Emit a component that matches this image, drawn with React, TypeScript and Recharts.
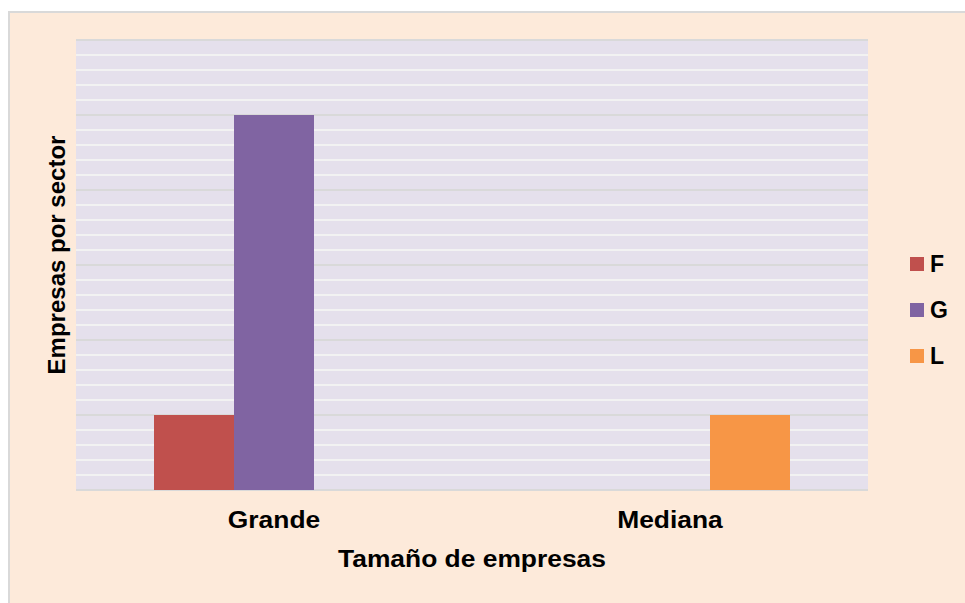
import { Bar, BarChart, CartesianGrid, Legend, XAxis, YAxis } from "recharts"

const categories = ["Grande", "Mediana"]
const seriesF = [1, 0]
const seriesG = [5, 0]
const seriesL = [0, 1]

// minor lines every 0.2, major every 1 (every 5th)
const yTicks = [
  0, 0.2, 0.4, 0.6, 0.8, 1, 1.2, 1.4, 1.6, 1.8, 2, 2.2, 2.4, 2.6, 2.8, 3,
  3.2, 3.4, 3.6, 3.8, 4, 4.2, 4.4, 4.6, 4.8, 5, 5.2, 5.4, 5.6, 5.8, 6,
]

const data = categories.map((name, i) => ({
  name,
  F: seriesF[i] || null,
  G: seriesG[i] || null,
  L: seriesL[i] || null,
}))

const FONT = "'Liberation Sans', Arial, sans-serif"

function gridLine(props: any) {
  const { x1, y1, x2, y2, index } = props
  const major = index % 5 === 0
  return (
    <line
      key={`h-${index}`}
      x1={x1}
      y1={y1}
      x2={x2}
      y2={y2}
      stroke={major ? "#D9D9D9" : "#F2F2F2"}
      strokeWidth={2}
    />
  )
}

function NoTick() {
  return <g />
}

// the source image is a bit stretched horizontally
function WideText({ x, y, children }: any) {
  return (
    <text
      transform={`translate(${x}, ${y}) scale(1.1, 1)`}
      textAnchor="middle"
      fontFamily={FONT}
      fontWeight="bold"
      fontSize={24}
      fill="#000"
    >
      {children}
    </text>
  )
}

function XTick(props: any) {
  const { x, payload } = props
  return <WideText x={x} y={528}>{payload.value}</WideText>
}

function XLabel(props: any) {
  const { viewBox } = props
  return <WideText x={viewBox.x + viewBox.width / 2} y={567}>Tamaño de empresas</WideText>
}

function YLabel(props: any) {
  const { viewBox } = props
  const x = viewBox.x + 65
  const y = viewBox.y + viewBox.height / 2 - 10
  return (
    <text
      x={x}
      y={y}
      transform={`rotate(-90, ${x}, ${y})`}
      textAnchor="middle"
      fontFamily={FONT}
      fontWeight="bold"
      fontSize={24}
      fill="#000"
    >
      Empresas por sector
    </text>
  )
}

function LegendBox(props: any) {
  const { payload } = props
  return (
    <div style={{ fontFamily: FONT }}>
      {payload.map((item: any) => (
        <div key={item.value} style={{ height: 46, display: "flex", alignItems: "center" }}>
          <span style={{ width: 14, height: 14, background: item.color, display: "inline-block", marginRight: 6 }} />
          <span style={{ fontSize: 23, fontWeight: "bold", color: "#000" }}>{item.value}</span>
        </div>
      ))}
    </div>
  )
}

export default function App() {
  return (
    <div
      style={{
        position: "fixed",
        left: 8,
        top: 11,
        width: 965,
        height: 603,
        background: "#FDEADA",
        borderLeft: "2px solid #D9D9D9",
        borderTop: "2px solid #D9D9D9",
      }}
    >
      <div style={{ position: "fixed", left: 0, top: 0 }}>
        <BarChart
          width={965}
          height={603}
          data={data}
          margin={{ top: 40, right: 97, bottom: 33, left: 0 }}
          barGap={0}
          barSize={80}
        >
          <CartesianGrid vertical={false} fill="#E5E0EC" horizontal={gridLine} />
          <XAxis
            dataKey="name"
            height={80}
            axisLine={false}
            tickLine={false}
            tick={<XTick />}
            label={<XLabel />}
          />
          <YAxis
            width={76}
            domain={[0, 6]}
            ticks={yTicks}
            interval={0}
            tick={<NoTick />}
            axisLine={false}
            tickLine={false}
            label={<YLabel />}
          />
          <Legend
            layout="vertical"
            align="center"
            verticalAlign="middle"
            content={<LegendBox />}
            wrapperStyle={{ left: 910, top: 241, width: 50 }}
          />
          <Bar dataKey="F" name="F" fill="#C0504D" isAnimationActive={false} />
          <Bar dataKey="G" name="G" fill="#8064A2" isAnimationActive={false} />
          <Bar dataKey="L" name="L" fill="#F79646" isAnimationActive={false} />
        </BarChart>
      </div>
    </div>
  )
}
